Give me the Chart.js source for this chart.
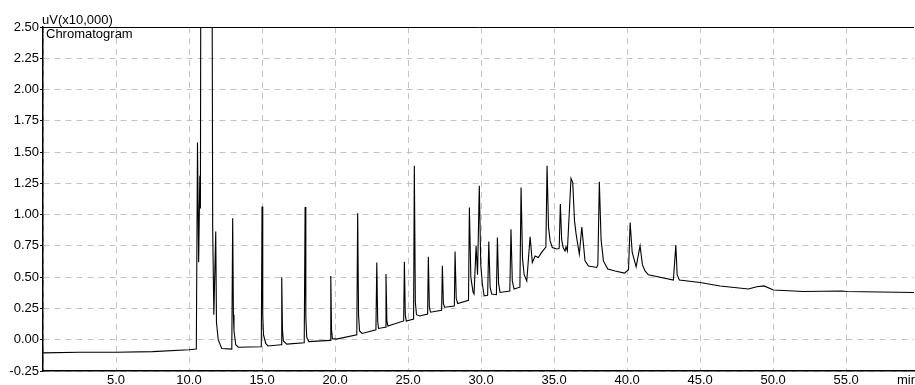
<!DOCTYPE html>
<html>
<head>
<meta charset="utf-8">
<title>Chromatogram</title>
<script src="https://cdn.jsdelivr.net/npm/chart.js@4"></script>
<style>
    html, body { margin: 0; padding: 0; background: #fff; }
    #wrap { width: 915px; height: 385px; }
</style>
</head>
<body>
<div id="wrap"><canvas id="chromChart"></canvas></div>
<script>
// retention time, min
const times = [
    0.00, 2.50, 5.00, 7.50, 10.00, 10.50, 10.58, 10.66, 10.74, 10.78,
    10.85, 11.20, 11.52, 11.62, 11.70, 11.83, 11.88, 12.00, 12.24, 12.93,
    12.99, 13.04, 13.08, 13.20, 13.38, 14.95, 15.00, 15.05, 15.10, 15.25,
    15.41, 16.30, 16.35, 16.40, 16.46, 16.69, 17.89, 17.95, 18.00, 18.06,
    18.20, 19.66, 19.71, 19.76, 19.82, 20.10, 21.49, 21.55, 21.61, 21.68,
    21.85, 22.80, 22.86, 22.92, 22.98, 23.44, 23.49, 23.55, 23.62, 24.70,
    24.75, 24.81, 24.88, 25.38, 25.43, 25.50, 25.58, 25.80, 26.34, 26.39,
    26.46, 26.54, 27.30, 27.35, 27.42, 27.50, 28.17, 28.22, 28.30, 28.40,
    29.14, 29.20, 29.30, 29.45, 29.52, 29.66, 29.76, 29.88, 29.98, 30.09,
    30.21, 30.45, 30.53, 30.62, 30.73, 31.05, 31.12, 31.20, 31.30, 31.97,
    32.05, 32.14, 32.26, 32.66, 32.74, 32.84, 32.95, 33.13, 33.36, 33.51,
    33.70, 33.92, 34.16, 34.44, 34.52, 34.62, 34.73, 34.88, 35.18, 35.35,
    35.43, 35.52, 35.62, 35.75, 35.82, 35.91, 36.16, 36.28, 36.40, 36.51,
    36.73, 36.90, 37.12, 37.35, 37.92, 38.00, 38.10, 38.22, 38.38, 38.68,
    39.18, 39.82, 40.10, 40.21, 40.35, 40.62, 40.89, 41.05, 41.23, 41.46,
    43.17, 43.34, 43.43, 43.58, 45.00, 46.37, 48.31, 48.88, 49.38, 50.02,
    52.08, 54.71, 55.05, 59.65
];

// uV (x10,000)
const signal = [
    -0.105, -0.100, -0.100, -0.095, -0.080, -0.075, 1.576, 0.620, 1.310, 1.050,
    6.000, 4.000, 6.000, 0.900, 0.200, 0.865, 0.140, 0.000, -0.070, -0.075,
    0.972, 0.200, 0.070, -0.040, -0.060, -0.056, 1.065, 0.200, 0.040, -0.030,
    -0.050, -0.040, 0.500, 0.080, -0.010, -0.035, -0.025, 1.062, 0.180, 0.020,
    -0.015, -0.005, 0.510, 0.080, 0.010, 0.005, 0.040, 1.012, 0.200, 0.070,
    0.050, 0.080, 0.617, 0.150, 0.090, 0.100, 0.525, 0.150, 0.110, 0.150,
    0.623, 0.200, 0.150, 0.165, 1.390, 0.300, 0.200, 0.190, 0.205, 0.663,
    0.260, 0.220, 0.235, 0.591, 0.290, 0.260, 0.270, 0.705, 0.330, 0.290,
    0.315, 1.057, 0.500, 0.380, 0.365, 0.750, 0.520, 1.230, 0.600, 0.445,
    0.350, 0.355, 0.785, 0.420, 0.365, 0.360, 0.817, 0.450, 0.378, 0.390,
    0.884, 0.470, 0.405, 0.420, 1.216, 0.650, 0.520, 0.470, 0.823, 0.617,
    0.670, 0.657, 0.700, 0.740, 1.390, 0.900, 0.790, 0.737, 0.725, 0.730,
    1.084, 0.800, 0.737, 0.710, 0.743, 0.710, 1.290, 1.256, 0.950, 0.844,
    0.684, 0.900, 0.630, 0.590, 0.578, 0.600, 1.262, 0.800, 0.630, 0.565,
    0.550, 0.533, 0.560, 0.937, 0.700, 0.583, 0.751, 0.600, 0.550, 0.519,
    0.477, 0.756, 0.520, 0.477, 0.458, 0.430, 0.405, 0.423, 0.430, 0.397,
    0.386, 0.390, 0.386, 0.378
];

const xMin = 0;
const xMax = 59.65;
const xStep = 5;
const yMin = -0.25;
const yMax = 2.5;
const yStep = 0.25;

const FONT = { family: 'Arial, "Liberation Sans", sans-serif', size: 13 };
const GRID_GREY = '#c4c4c4';

// texts around the plot: unit, trace name, top frame, "min"
const chromLabels = {
    id: 'chromLabels',
    afterDraw(chart) {
        const ctx = chart.ctx;
        const area = chart.chartArea;
        ctx.save();
        ctx.strokeStyle = '#000';
        ctx.lineWidth = 1;
        ctx.beginPath();
        ctx.moveTo(area.left, area.top + 0.5);
        ctx.lineTo(area.right, area.top + 0.5);
        ctx.stroke();

        ctx.fillStyle = '#000';
        ctx.font = FONT.size + 'px ' + FONT.family;
        ctx.textAlign = 'left';
        ctx.textBaseline = 'alphabetic';
        ctx.fillText('uV(x10,000)', area.left - 1, area.top - 3);
        ctx.fillText('Chromatogram', area.left + 3, area.top + 11);
        ctx.fillText('min', 897, 384);
        ctx.restore();
    }
};

function buildChart() {
    const points = times.map((t, i) => ({ x: t, y: signal[i] }));
    const ctx = document.getElementById('chromChart').getContext('2d');
    new Chart(ctx, {
        type: 'line',
        data: {
            datasets: [{
                data: points,
                borderColor: '#000',
                borderWidth: 1.1,
                pointRadius: 0,
                tension: 0,
                fill: false
            }]
        },
        options: {
            responsive: true,
            maintainAspectRatio: false,
            animation: false,
            layout: { padding: { top: 27, right: 1, bottom: 0, left: 0 } },
            plugins: {
                legend: { display: false },
                tooltip: { enabled: false }
            },
            scales: {
                x: {
                    type: 'linear',
                    min: xMin,
                    max: xMax,
                    afterBuildTicks: (axis) => {
                        axis.ticks = axis.ticks.filter(t => Math.abs(t.value % xStep) < 1e-6);
                    },
                    afterFit: (axis) => { axis.height = 14; },
                    ticks: {
                        stepSize: xStep,
                        autoSkip: false,
                        maxRotation: 0,
                        padding: 2,
                        color: '#000',
                        font: FONT,
                        callback: (v) => (v === 0 ? '' : v.toFixed(1))
                    },
                    grid: {
                        color: GRID_GREY,
                        drawTicks: false
                    },
                    border: { color: '#000', width: 1.5, dash: [6, 5] }
                },
                y: {
                    min: yMin,
                    max: yMax,
                    afterFit: (axis) => { axis.width = 43; },
                    ticks: {
                        stepSize: yStep,
                        padding: 1,
                        color: '#000',
                        font: FONT,
                        callback: (v) => v.toFixed(2)
                    },
                    grid: {
                        color: GRID_GREY,
                        tickLength: 3,
                        tickColor: '#000',
                        tickBorderDash: []
                    },
                    border: { color: '#000', width: 1.5, dash: [6, 5] }
                }
            }
        },
        plugins: [chromLabels]
    });
}

window.onload = buildChart;
</script>
</body>
</html>
